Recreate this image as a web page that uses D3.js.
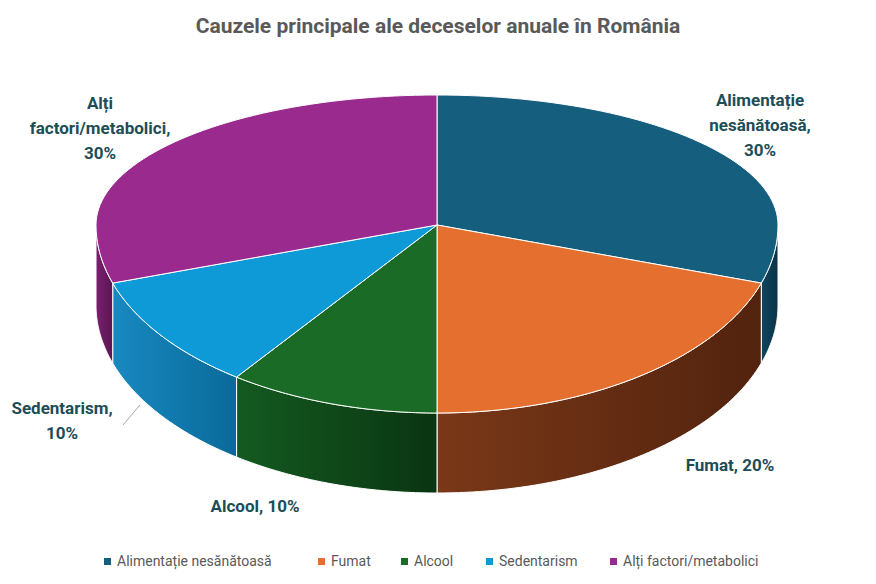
<!DOCTYPE html>
<html><head><meta charset="utf-8">
<script src="https://cdn.jsdelivr.net/npm/d3@7"></script>
<style>body{margin:0;background:#fff}</style></head>
<body><svg id="c" width="876" height="584"></svg>
<script>
const labels = ["Alimentație nesănătoasă", "Fumat", "Alcool", "Sedentarism", "Alți factori/metabolici"];
const values = [30, 20, 10, 10, 30];
const topColors = ["#155e7e", "#e46f2e", "#1a6b26", "#0e9ad6", "#9b2a8f"];
const sideColors = [["#0f4660", "#0b3348"], ["#7a3818", "#52230e"], ["#145a20", "#0a3512"], ["#1889c0", "#0a6a9a"], ["#7a2070", "#5a1652"]];

const svg = d3.select("#c");
const cx = 437, cy = 225, rx = 341, ryTop = 130, ryBot = 188, depth = 80;
function pt(a) {
  const c = Math.cos(a);
  return [cx + rx * Math.sin(a), cy - (c > 0 ? ryTop : ryBot) * c];
}
const arcs = d3.pie().sort(null).value(d => d)(values);

// side walls
const defs = svg.append("defs");
arcs.forEach((d, i) => {
  const a0 = Math.max(d.startAngle, Math.PI / 2), a1 = Math.min(d.endAngle, 3 * Math.PI / 2);
  if (a1 <= a0) return;
  const g = defs.append("linearGradient").attr("id", "g" + i);
  g.append("stop").attr("offset", "0%").attr("stop-color", sideColors[i][0]);
  g.append("stop").attr("offset", "100%").attr("stop-color", sideColors[i][1]);
  const top = d3.range(0, 61).map(k => pt(a0 + (a1 - a0) * k / 60));
  const bot = top.map(p => [p[0], p[1] + depth]).reverse();
  svg.append("path").attr("d", d3.line()(top.concat(bot)) + "Z")
    .attr("fill", `url(#g${i})`).attr("stroke", "#fff").attr("stroke-width", 1);
});

// top faces
arcs.forEach((d, i) => {
  const pts = d3.range(0, 61).map(k => pt(d.startAngle + (d.endAngle - d.startAngle) * k / 60));
  svg.append("path").attr("d", d3.line()([[cx, cy]].concat(pts)) + "Z")
    .attr("fill", topColors[i]).attr("stroke", "#fff").attr("stroke-width", 1);
});

svg.append("text").attr("x", 438).attr("y", 33).attr("text-anchor", "middle")
  .attr("font-family", "Roboto, sans-serif").attr("font-weight", "bold").attr("font-size", 21)
  .attr("fill", "#595959").text("Cauzele principale ale deceselor anuale în România");

const labelPos = [
  [760, 106, ["Alimentație", "nesănătoasă,", "30%"]],
  [730, 471, ["Fumat, 20%"]],
  [255, 512, ["Alcool, 10%"]],
  [62, 414, ["Sedentarism,", "10%"]],
  [100, 109, ["Alți", "factori/metabolici,", "30%"]]
];
svg.append("line").attr("x1", 123).attr("y1", 425).attr("x2", 140).attr("y2", 405)
  .attr("stroke", "#a6a6a6");
labelPos.forEach(([x, y, lines]) => {
  const t = svg.append("text").attr("text-anchor", "middle")
    .attr("font-family", "Roboto, sans-serif").attr("font-weight", "bold").attr("font-size", 17)
    .attr("fill", "#1d4d57");
  lines.forEach((l, k) => t.append("tspan").attr("x", x).attr("y", y + k * 25).text(l));
});

// legend
const lx = [104, 318, 401, 486, 610];
labels.forEach((l, i) => {
  svg.append("rect").attr("x", lx[i]).attr("y", 558).attr("width", 7).attr("height", 7).attr("fill", topColors[i]);
  svg.append("text").attr("x", lx[i] + 13).attr("y", 566).attr("font-family", "Roboto, sans-serif")
    .attr("font-size", 14).attr("fill", "#595959").text(l);
});
</script></body></html>
